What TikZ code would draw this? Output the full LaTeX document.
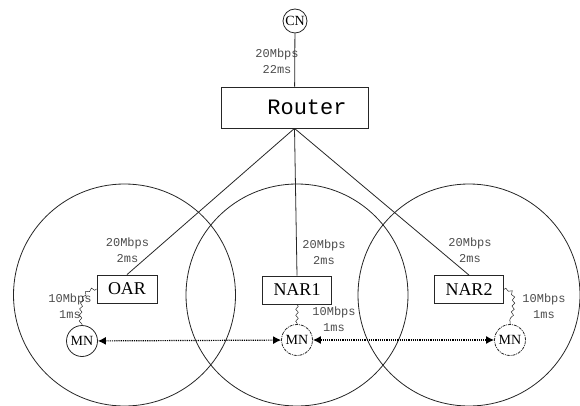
\documentclass[tikz,border=0pt]{standalone}
\usepackage{fontspec}
\setmainfont{Liberation Serif}
\setmonofont{Liberation Mono}
\usetikzlibrary{positioning,arrows.meta,decorations.pathmorphing}

\begin{document}
\begin{tikzpicture}[x=1pt,y=-1pt,
  every node/.style={align=center,},%
  ln/.style={draw=black!85,line width=.8pt,},%
  cell/.style={ln,circle,minimum size=222pt,inner sep=0pt,},%
  bx/.style={ln,rectangle,minimum height=28pt,inner xsep=11pt,%
    font=\fontsize{18}{20}\selectfont,},%
  nd/.style={ln,circle,inner sep=0pt,font=\fontsize{14}{15}\selectfont,},%
  gh/.style={densely dashdotted,},%
  lk/.style={text=black!70,font=\ttfamily\fontsize{12}{16}\selectfont,inner sep=0pt,},%
  wl/.style={ln,line width=.5pt,decorate,%
    decoration={snake,amplitude=1.3pt,segment length=6pt},},%
  mv/.style={draw=black,densely dotted,line width=1.2pt,%
    >={Latex[length=8pt,width=8pt]},<->,}%
  ]
  \useasboundingbox (0,0) rectangle (580,406);

  \node (oarcell) [cell] at (124.5,295) {};
  \node (nar1cell) [cell] at (297,295) {};
  \node (nar2cell) [cell] at (469,295) {};

  \node (cn) [nd,minimum size=24pt] at (295,21) {CN};
  \node (router) [ln,minimum width=147pt,minimum height=41pt,%
  font=\ttfamily\fontsize{22}{24}\selectfont] at (294.5,107.5) {\hspace*{25pt}Router};

  \node (oar) [bx] at (127,289) {OAR};
  \node (nar1) [bx] at (297,290) {NAR1};
  \node (nar2) [bx] at (469,289.5) {NAR2};

  \node (mn) [nd,minimum size=31pt] at (82,341) {MN};
  \node (mn1) [nd,gh,minimum size=31pt] at (297,340) {MN};
  \node (mn2) [nd,gh,minimum size=31pt] at (510,340) {MN};

  \node (cnlk) [lk] at (277,61.5) {20Mbps\\22ms};
  \node (oarlk) [lk] at (127.5,250.5) {20Mbps\\2ms};
  \node (nar1lk) [lk] at (324,252) {20Mbps\\2ms};
  \node (nar2lk) [lk] at (470,250.5) {20Mbps\\2ms};
  \node (mnlk) [lk] at (70,306.5) {10Mbps\\1ms};
  \node (mn1lk) [lk] at (334,319) {10Mbps\\1ms};
  \node (mn2lk) [lk] at (544,306) {10Mbps\\1ms};

  \draw [ln] (cn) -- (router);
  \draw [ln] (router.south) -- (oar.north);
  \draw [ln] (router.south) -- (nar1.north);
  \draw [ln] (router.south) -- (nar2.north);
  \draw [wl] (oar.west) to[out=180,in=90] (mn.north);
  \draw [wl] (nar1.south) -- (mn1.north);
  \draw [wl] (nar2.east) to[out=0,in=90] (mn2.north);
  \draw [mv] (mn) -- (mn1);
  \draw [mv] (mn1) -- (mn2);
\end{tikzpicture}
\end{document}
